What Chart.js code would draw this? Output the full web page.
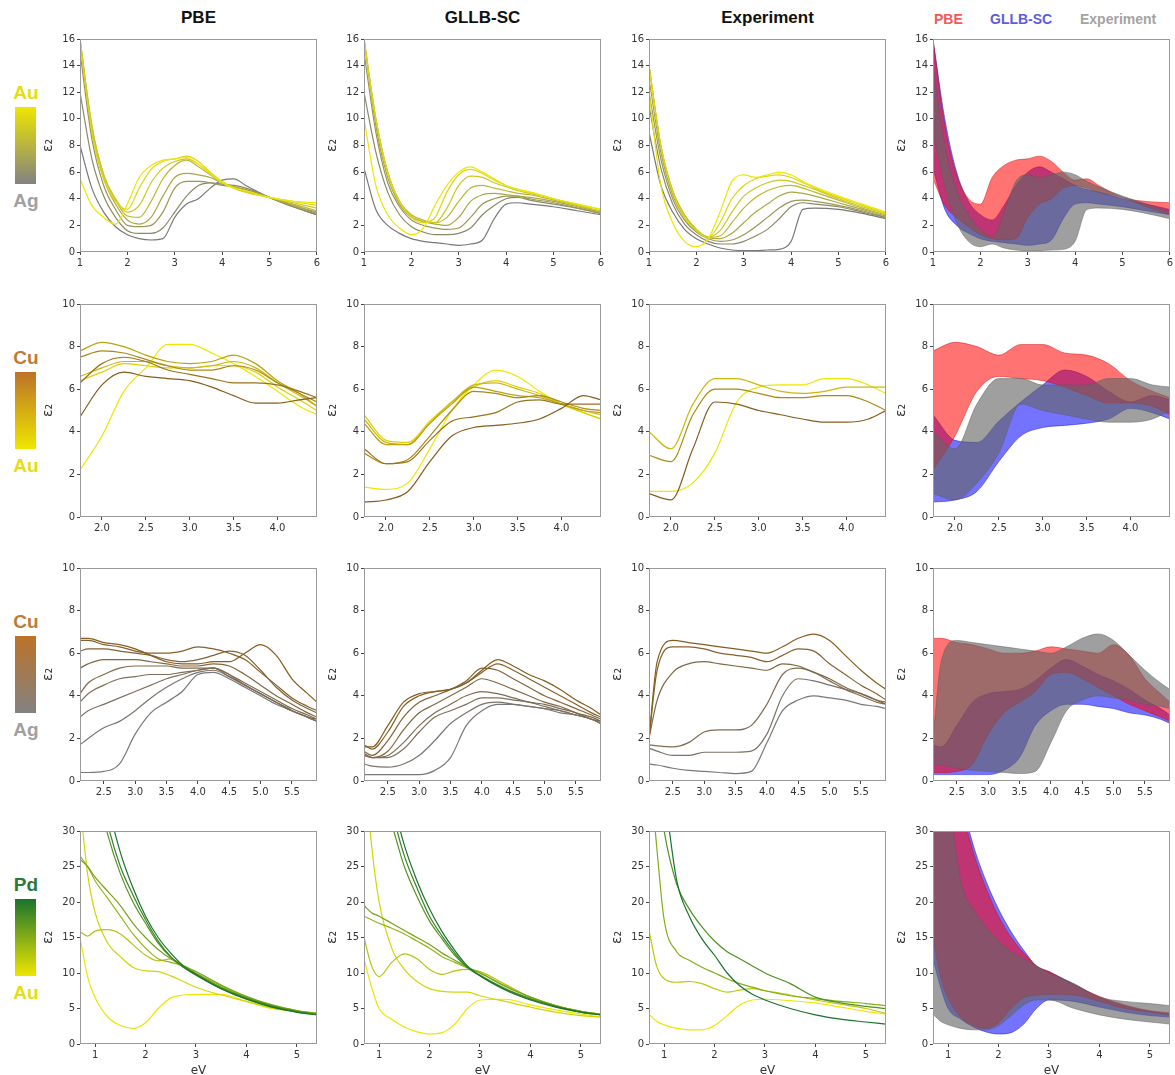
<!DOCTYPE html>
<html>
<head>
<meta charset="utf-8">
<script src="https://cdn.jsdelivr.net/npm/chart.js@4.4.1/dist/chart.umd.min.js"></script>
<style>
  body { margin: 0; background: #fff; font-family: "Liberation Sans", Arial, sans-serif; }
  #wrap { position: relative; width: 1175px; height: 1075px; overflow: hidden; }
  #wrap canvas { position: absolute; }
  .head { position: absolute; top: 8px; width: 237px; text-align: center; font-weight: bold; font-size: 17px; color: #111; }
  .lg { position: absolute; top: 11px; font-weight: bold; font-size: 14px; }
  .cb-lab { position: absolute; left: 6px; width: 40px; text-align: center; font-weight: bold; font-size: 19px; line-height: 20px; }
  .cb-bar { position: absolute; left: 15px; width: 21px; height: 77px; }
</style>
</head>
<body>
<div id="wrap">
  <div class="head" style="left:80px">PBE</div>
  <div class="head" style="left:364px">GLLB-SC</div>
  <div class="head" style="left:649px">Experiment</div>
  <div class="lg" style="left:934px;color:#f05a5a">PBE</div>
  <div class="lg" style="left:990px;color:#5c5ce0">GLLB-SC</div>
  <div class="lg" style="left:1080px;color:#a3a3a3">Experiment</div>
</div>
<script>
// ---- Au-Ag (row 1) ----
const xRow1 = [1.0, 1.25, 1.5, 1.75, 2.0, 2.25, 2.5, 2.75, 3.0, 3.25, 3.5, 3.75, 4.0, 4.25, 4.5, 5.0, 5.5, 6.0];
const pbeAuAg = [
  [5.5, 3.5, 2.6, 2.1, 3.6, 5.6, 6.5, 6.9, 7.0, 7.1, 6.6, 5.9, 5.2, 4.8, 4.6, 4.1, 3.8, 3.7],
  [16, 9.0, 5.5, 3.8, 3.2, 4.8, 6.2, 6.8, 7.0, 7.2, 6.8, 6.0, 5.3, 4.8, 4.5, 4.1, 3.8, 3.5],
  [16, 9.5, 5.8, 4.0, 3.0, 3.5, 5.2, 6.3, 6.8, 7.0, 6.6, 5.9, 5.2, 4.8, 4.5, 4.1, 3.7, 3.3],
  [16, 9.5, 5.8, 3.9, 2.7, 2.6, 3.8, 5.5, 6.5, 6.9, 6.4, 5.8, 5.2, 4.9, 4.6, 4.1, 3.6, 3.1],
  [16, 9.0, 5.5, 3.6, 2.4, 2.1, 2.6, 4.2, 5.6, 5.9, 5.8, 5.6, 5.2, 4.9, 4.6, 4.1, 3.5, 3.0],
  [15, 8.5, 5.0, 3.2, 2.0, 1.9, 2.0, 3.0, 4.8, 5.3, 5.3, 5.2, 5.0, 4.9, 4.7, 4.1, 3.5, 2.9],
  [12, 7.0, 4.2, 2.6, 1.6, 1.4, 1.4, 1.8, 3.0, 4.2, 5.0, 5.2, 5.1, 5.0, 4.8, 4.1, 3.4, 2.8],
  [8, 4.8, 3.0, 1.9, 1.3, 1.0, 0.9, 1.0, 2.6, 3.6, 4.0, 4.8, 5.4, 5.5, 5.0, 4.1, 3.4, 2.8]
];
const gllbAuAg = [
  [10, 5.0, 2.8, 1.8, 1.3, 1.8, 3.5, 5.0, 6.0, 6.4, 6.0, 5.5, 5.0, 4.7, 4.5, 4.0, 3.6, 3.2],
  [16, 10, 6.0, 3.8, 2.6, 2.2, 2.6, 4.5, 5.8, 6.2, 5.9, 5.4, 5.0, 4.7, 4.5, 4.0, 3.6, 3.2],
  [16, 10, 6.0, 3.8, 2.7, 2.3, 2.2, 3.3, 5.0, 5.7, 5.6, 5.2, 4.9, 4.6, 4.4, 4.0, 3.5, 3.1],
  [16, 10, 6.0, 3.8, 2.8, 2.4, 2.2, 2.6, 3.8, 4.8, 5.0, 4.8, 4.6, 4.4, 4.3, 3.9, 3.5, 3.0],
  [16, 9.5, 5.6, 3.6, 2.6, 2.3, 2.1, 2.0, 2.6, 3.8, 4.3, 4.4, 4.3, 4.2, 4.1, 3.8, 3.4, 3.0],
  [15, 9.0, 5.2, 3.4, 2.4, 2.0, 1.8, 1.7, 1.8, 2.6, 3.6, 4.0, 4.2, 4.2, 4.0, 3.7, 3.3, 2.9],
  [12, 7.5, 4.5, 2.8, 1.9, 1.5, 1.3, 1.3, 1.4, 1.8, 2.8, 3.5, 4.0, 4.1, 3.9, 3.6, 3.3, 2.9],
  [6.3, 3.2, 2.0, 1.4, 1.0, 0.8, 0.7, 0.6, 0.5, 0.6, 0.9, 2.5, 3.6, 3.7, 3.6, 3.4, 3.1, 2.8]
];
const expAuAg = [
  [12, 5.0, 2.2, 0.8, 0.4, 1.0, 3.0, 5.3, 5.8, 5.6, 5.8, 6.0, 5.8, 5.3, 4.9, 4.2, 3.6, 3.0],
  [14, 8.0, 4.5, 2.6, 1.6, 1.1, 2.2, 4.0, 5.0, 5.5, 5.7, 5.8, 5.6, 5.2, 4.8, 4.1, 3.5, 2.9],
  [14, 8.0, 4.6, 2.8, 1.7, 1.1, 1.6, 3.0, 4.2, 4.8, 5.2, 5.4, 5.3, 5.0, 4.7, 4.0, 3.4, 2.9],
  [14, 8.0, 4.6, 2.8, 1.7, 1.1, 1.2, 2.2, 3.3, 4.1, 4.6, 4.9, 5.0, 4.8, 4.5, 3.9, 3.3, 2.8],
  [13, 7.5, 4.3, 2.6, 1.6, 1.1, 1.0, 1.4, 2.2, 3.0, 3.6, 4.2, 4.5, 4.4, 4.2, 3.7, 3.2, 2.7],
  [12, 7.0, 4.0, 2.4, 1.5, 1.0, 0.8, 0.9, 1.3, 1.9, 2.6, 3.3, 3.8, 3.9, 3.8, 3.5, 3.1, 2.6],
  [11, 6.3, 3.6, 2.1, 1.3, 0.8, 0.6, 0.6, 0.8, 1.2, 1.7, 2.5, 3.4, 3.7, 3.6, 3.4, 3.0, 2.6],
  [9, 5.0, 3.0, 1.7, 1.0, 0.6, 0.3, 0.15, 0.1, 0.1, 0.15, 0.2, 0.8, 3.2, 3.3, 3.2, 2.9, 2.5]
];

// ---- Cu-Au (row 2) ----
const xRow2 = [1.75, 2.0, 2.25, 2.5, 2.75, 3.0, 3.25, 3.5, 3.75, 4.0, 4.25, 4.45];
const pbeCuAu = [
  [4.7, 6.2, 6.8, 6.6, 6.5, 6.4, 6.1, 5.7, 5.35, 5.35, 5.5, 5.6],
  [6.3, 7.2, 7.5, 7.3, 6.9, 6.7, 6.5, 6.3, 6.3, 6.2, 5.9, 5.6],
  [7.5, 7.8, 7.7, 7.4, 7.1, 6.9, 6.9, 7.1, 6.9, 6.3, 5.8, 5.4],
  [7.8, 8.2, 8.0, 7.6, 7.3, 7.2, 7.3, 7.6, 7.2, 6.4, 5.8, 5.2],
  [6.6, 7.0, 7.3, 7.3, 7.1, 7.0, 7.1, 7.3, 7.0, 6.3, 5.7, 5.2],
  [6.4, 6.8, 7.2, 7.1, 7.0, 7.0, 7.1, 7.1, 6.8, 6.1, 5.5, 5.0],
  [2.2, 3.8, 5.9, 7.0, 8.1, 8.1, 7.7, 7.2, 6.6, 5.9, 5.2, 4.8]
];
const gllbCuAu = [
  [0.7, 0.8, 1.2, 2.6, 3.8, 4.2, 4.3, 4.4, 4.6, 5.1, 5.7, 5.5],
  [3.2, 2.5, 2.6, 3.6, 4.5, 4.7, 4.9, 5.4, 5.5, 5.3, 5.3, 5.3],
  [3.0, 2.5, 2.7, 3.8, 5.0, 5.9, 5.8, 5.6, 5.7, 5.4, 5.1, 5.0],
  [4.4, 3.4, 3.4, 4.4, 5.3, 6.1, 5.9, 5.7, 5.6, 5.3, 5.0, 4.9],
  [4.6, 3.5, 3.4, 4.4, 5.4, 6.2, 6.3, 6.0, 5.7, 5.3, 5.0, 4.8],
  [4.8, 3.6, 3.5, 4.5, 5.4, 6.1, 6.4, 6.1, 5.8, 5.3, 4.9, 4.6],
  [1.4, 1.3, 1.6, 3.2, 5.0, 6.2, 6.9, 6.6, 5.9, 5.3, 4.9, 4.6]
];
const expCuAu = [
  [1.1, 0.8, 3.2, 5.4, 5.3, 5.0, 4.8, 4.6, 4.45, 4.45, 4.6, 5.0],
  [2.9, 2.6, 4.8, 6.0, 6.0, 5.8, 5.6, 5.6, 5.7, 5.7, 5.4, 5.0],
  [4.0, 3.2, 5.3, 6.5, 6.5, 6.2, 5.9, 5.8, 5.9, 6.1, 6.1, 6.1],
  [1.2, 1.2, 1.6, 3.0, 5.4, 6.1, 6.2, 6.2, 6.5, 6.5, 6.2, 5.8]
];

// ---- Cu-Ag (row 3) ----
const xRow3 = [2.12, 2.25, 2.5, 2.75, 3.0, 3.25, 3.5, 3.75, 4.0, 4.25, 4.5, 4.75, 5.0, 5.25, 5.5, 5.75, 5.9];
const pbeCuAg = [
  [6.7, 6.7, 6.5, 6.4, 6.2, 5.9, 5.6, 5.5, 5.5, 5.6, 5.6, 6.0, 6.4, 5.9, 4.8, 4.1, 3.7],
  [6.6, 6.6, 6.4, 6.3, 6.1, 6.0, 6.0, 6.1, 6.3, 6.2, 6.0, 5.7, 5.1, 4.5, 3.9, 3.5, 3.3],
  [6.1, 6.2, 6.2, 6.1, 6.0, 5.9, 5.7, 5.6, 5.7, 5.9, 6.1, 5.9, 5.2, 4.4, 3.8, 3.4, 3.2],
  [5.3, 5.5, 5.7, 5.7, 5.7, 5.6, 5.5, 5.4, 5.4, 5.5, 5.4, 5.0, 4.5, 4.0, 3.6, 3.2, 3.0],
  [4.1, 4.6, 5.0, 5.3, 5.4, 5.4, 5.4, 5.3, 5.3, 5.3, 5.0, 4.6, 4.2, 3.8, 3.4, 3.1, 2.9],
  [3.7, 4.1, 4.5, 4.8, 4.9, 5.0, 5.0, 5.1, 5.2, 5.3, 4.9, 4.5, 4.1, 3.7, 3.3, 3.0, 2.9],
  [3.0, 3.3, 3.6, 3.9, 4.2, 4.5, 4.8, 5.0, 5.2, 5.3, 5.0, 4.5, 4.1, 3.7, 3.3, 3.0, 2.8],
  [1.7, 2.0, 2.5, 2.8, 3.3, 3.9, 4.4, 4.8, 5.1, 5.2, 4.9, 4.5, 4.1, 3.7, 3.3, 3.0, 2.8],
  [0.4, 0.4, 0.45, 0.8, 2.2, 3.2, 3.7, 4.2, 5.0, 5.1, 4.8, 4.4, 4.0, 3.6, 3.3, 3.0, 2.8]
];
const gllbCuAg = [
  [1.6, 1.6, 2.6, 3.7, 4.1, 4.2, 4.3, 4.6, 5.2, 5.7, 5.4, 5.0, 4.7, 4.3, 3.8, 3.4, 3.1],
  [1.7, 1.5, 2.3, 3.5, 4.0, 4.2, 4.3, 4.6, 5.1, 5.5, 5.2, 4.8, 4.4, 4.0, 3.6, 3.2, 3.0],
  [1.4, 1.2, 1.9, 3.0, 3.7, 4.0, 4.3, 4.7, 5.3, 5.2, 4.8, 4.4, 4.0, 3.7, 3.4, 3.1, 2.9],
  [1.3, 1.1, 1.4, 2.4, 3.2, 3.6, 4.0, 4.4, 4.8, 4.6, 4.3, 4.0, 3.7, 3.5, 3.2, 3.0, 2.8],
  [1.2, 1.1, 1.2, 1.8, 2.6, 3.2, 3.6, 4.0, 4.2, 4.1, 3.9, 3.7, 3.6, 3.4, 3.2, 2.9, 2.8],
  [1.2, 1.1, 1.1, 1.5, 2.3, 3.0, 3.3, 3.6, 3.9, 3.9, 3.8, 3.7, 3.5, 3.3, 3.1, 2.9, 2.7],
  [0.8, 0.7, 0.65, 0.8, 1.2, 1.9, 2.7, 3.2, 3.6, 3.7, 3.6, 3.5, 3.4, 3.3, 3.1, 2.9, 2.7],
  [0.3, 0.3, 0.3, 0.3, 0.3, 0.5, 1.1, 2.6, 3.3, 3.6, 3.6, 3.5, 3.4, 3.2, 3.1, 2.9, 2.7]
];
const expCuAg = [
  [2.0, 5.6, 6.6, 6.5, 6.4, 6.3, 6.2, 6.1, 6.0, 6.3, 6.7, 6.9, 6.6, 5.9, 5.2, 4.6, 4.3],
  [2.0, 5.2, 6.3, 6.3, 6.2, 6.0, 5.9, 5.8, 5.6, 5.9, 6.2, 6.1, 5.5, 5.0, 4.5, 4.1, 3.8],
  [2.0, 3.8, 5.1, 5.5, 5.6, 5.5, 5.4, 5.3, 5.2, 5.5, 5.4, 5.1, 4.8, 4.4, 4.1, 3.8, 3.7],
  [1.7, 1.65, 1.6, 1.8, 2.3, 2.4, 2.4, 2.6, 3.6, 5.0, 5.3, 5.1, 4.7, 4.3, 4.0, 3.7, 3.6],
  [1.55, 1.4, 1.2, 1.2, 1.35, 1.35, 1.35, 1.4, 2.2, 4.0, 4.8, 4.7, 4.5, 4.3, 4.1, 3.8, 3.6],
  [0.8, 0.75, 0.6, 0.5, 0.45, 0.4, 0.35, 0.45, 1.8, 3.3, 3.8, 4.0, 3.9, 3.8, 3.6, 3.5, 3.4]
];

// ---- Pd-Au (row 4) ----
const xRow4 = [0.7, 0.85, 1.0, 1.25, 1.5, 1.75, 2.0, 2.25, 2.5, 2.75, 3.0, 3.5, 4.0, 4.5, 5.0, 5.4];
const pbePdAu = [
  [60, 50, 44, 34, 27, 22, 18, 15, 12.8, 11, 9.8, 7.8, 6.3, 5.2, 4.5, 4.1],
  [55, 45, 40, 31, 25, 21, 17.5, 14.5, 12.3, 10.8, 9.7, 7.8, 6.4, 5.3, 4.5, 4.1],
  [50, 42, 37, 29.5, 24, 20, 17, 14.2, 12.2, 10.8, 9.9, 8.0, 6.5, 5.4, 4.6, 4.2],
  [26, 25, 23.5, 21.5, 19.5, 17, 15, 13.3, 12, 11, 10.2, 8.3, 6.7, 5.5, 4.7, 4.3],
  [26.5, 25, 23, 20.5, 18, 15.5, 13.5, 12.0, 11.5, 11, 10, 8.2, 6.6, 5.5, 4.7, 4.3],
  [15.8, 15.2, 15.9, 16.1, 15.5, 14, 12.5, 11.7, 12, 11, 9.8, 8.0, 6.5, 5.3, 4.6, 4.3],
  [34, 24, 18.5, 14.2, 12.3, 10.8, 10.3, 10.2, 9.6, 8.8, 8.0, 6.9, 6.0, 5.1, 4.6, 4.3],
  [15, 9.5, 6.5, 3.8, 2.6, 2.2, 3.0, 5.0, 6.5, 6.9, 7.0, 7.0, 6.0, 5.0, 4.6, 4.4]
];
const gllbPdAu = [
  [60, 50, 44, 35, 28, 23, 19, 15.8, 13.2, 11.0, 9.6, 7.6, 6.2, 5.2, 4.5, 4.1],
  [55, 46, 41, 33, 26.5, 22, 18, 15.2, 12.8, 10.8, 9.6, 7.7, 6.3, 5.3, 4.5, 4.1],
  [50, 42, 37, 31, 25, 20.8, 17.3, 14.8, 12.5, 10.8, 9.7, 7.8, 6.4, 5.3, 4.5, 4.1],
  [19.5, 18.5, 18.0, 17.0, 16.0, 15.0, 14.0, 12.8, 11.8, 10.8, 10.0, 8.1, 6.6, 5.4, 4.6, 4.2],
  [18, 17.5, 17, 16.3, 15.5, 14.5, 13.5, 12.3, 11.5, 10.7, 10.0, 8.2, 6.6, 5.4, 4.6, 4.2],
  [15, 11, 9.5, 11.5, 12.7, 12, 10.5, 9.8, 10.3, 10.5, 10.2, 8.4, 6.6, 5.4, 4.6, 4.2],
  [40, 28, 20, 13.5, 10.5, 8.8, 7.8, 7.4, 7.3, 7.3, 6.8, 6.0, 5.2, 4.5, 4.0, 3.8],
  [12, 8, 5, 3.5, 2.4, 1.7, 1.4, 1.6, 2.8, 5.0, 6.2, 6.3, 5.5, 4.8, 4.2, 3.8]
];
const expPdAu = [
  [60, 45, 36, 23, 18, 14.8, 12.5, 10.0, 8.2, 7.0, 6.2, 5.0, 4.1, 3.5, 3.1, 2.8],
  [50, 38, 30, 22.5, 19, 16.5, 14.5, 13.0, 12.0, 11.0, 10.0, 8.5, 6.6, 5.8, 5.3, 5.0],
  [40, 28, 17.5, 13.0, 11.8, 10.8, 10.0, 9.2, 8.5, 8.0, 7.5, 6.8, 6.4, 6.0, 5.7, 5.4],
  [16, 11, 9.2, 8.7, 8.8, 8.5, 7.8, 7.3, 7.6, 7.8, 7.5, 6.9, 6.2, 5.6, 5.0, 4.3],
  [4.2, 3.2, 2.7, 2.2, 2.0, 2.0, 2.6, 4.0, 5.5, 6.2, 6.3, 6.1, 5.8, 5.2, 4.6, 4.2]
];

// warna logam: colorbar dan garis (Cu garis lebih gelap)
const AU = [238, 230, 0], AG = [130, 130, 130], CU = [188, 114, 40], PD = [25, 115, 45];
const CU_LINE = [135, 92, 30], AG_LINE = [120, 120, 120];

const colLeft = [80, 364, 649, 933];
const PW = 237, PH = 213, YW = 42;

const rows = [
  { top: 39, xs: xRow1, xMin: 1, xMax: 6, xStep: 1, yMax: 16, yStep: 2, dec: 0, a: AU, b: AG, la0: AU, lb0: AG_LINE, la: 'Au', lb: 'Ag', ca: '#e6dc12', cb: '#a0a0a0', sets: [pbeAuAg, gllbAuAg, expAuAg] },
  { top: 304, xs: xRow2, xMin: 1.75, xMax: 4.45, xStep: 0.5, yMax: 10, yStep: 2, dec: 1, a: CU, b: AU, la0: CU_LINE, lb0: AU, la: 'Cu', lb: 'Au', ca: '#c07a38', cb: '#e6dc12', sets: [pbeCuAu, gllbCuAu, expCuAu] },
  { top: 568, xs: xRow3, xMin: 2.12, xMax: 5.9, xStep: 0.5, yMax: 10, yStep: 2, dec: 1, a: CU, b: AG, la0: CU_LINE, lb0: AG_LINE, la: 'Cu', lb: 'Ag', ca: '#c07a38', cb: '#a0a0a0', sets: [pbeCuAg, gllbCuAg, expCuAg] },
  { top: 831, xs: xRow4, xMin: 0.7, xMax: 5.4, xStep: 1, yMax: 30, yStep: 5, dec: 0, a: PD, b: AU, la0: PD, lb0: AU, la: 'Pd', lb: 'Au', ca: '#2a7a3a', cb: '#e6dc12', sets: [pbePdAu, gllbPdAu, expPdAu] }
];

const wrap = document.getElementById('wrap');

const mix = (a, b, t) => 'rgb(' + a.map((v, i) => Math.round(v + (b[i] - v) * t)).join(',') + ')';
const pts = (xs, ys) => xs.map((x, i) => ({ x: x, y: ys[i] }));
const envelope = (curves, fn) => curves[0].map((_, i) => fn(...curves.map(c => c[i])));

// bingkai kotak di sekeliling area plot
const frame = {
  id: 'frame',
  afterDatasetsDraw(chart) {
    const { ctx, chartArea: a } = chart;
    ctx.save();
    ctx.strokeStyle = '#9a9a9a';
    ctx.lineWidth = 1;
    ctx.strokeRect(Math.round(a.left) + 0.5, Math.round(a.top) + 0.5, Math.round(a.right - a.left) - 1, Math.round(a.bottom - a.top) - 1);
    ctx.restore();
  }
};

function addDiv(cls, style, text) {
  const d = document.createElement('div');
  d.className = cls;
  d.setAttribute('style', style);
  if (text) d.textContent = text;
  wrap.appendChild(d);
}

function makePanel(row, col, datasets, last) {
  const xh = last ? 34 : 20;
  const c = document.createElement('canvas');
  c.width = YW + PW + 5;
  c.height = 8 + PH + xh;
  c.style.left = (colLeft[col] - YW) + 'px';
  c.style.top = (row.top - 8) + 'px';
  wrap.appendChild(c);

  const tickFont = { family: 'DejaVu Sans', size: 10 };
  new Chart(c, {
    type: 'line',
    data: { datasets: datasets },
    options: {
      responsive: false,
      animation: false,
      events: [],
      layout: { padding: { top: 8, right: 5, left: 0, bottom: 0 } },
      plugins: { legend: { display: false }, tooltip: { enabled: false } },
      elements: { point: { radius: 0 }, line: { cubicInterpolationMode: 'monotone' } },
      scales: {
        x: {
          type: 'linear', min: row.xMin, max: row.xMax,
          afterFit: s => { s.height = xh; },
          border: { display: false },
          grid: { drawOnChartArea: false, tickLength: 3, color: '#444' },
          ticks: { stepSize: row.xStep, includeBounds: false, maxRotation: 0, padding: 2, color: '#333', font: tickFont,
                   callback: v => v.toFixed(row.dec) },
          title: { display: last, text: 'eV', color: '#333', font: { family: 'DejaVu Sans', size: 12 }, padding: { top: 0, bottom: 0 } }
        },
        y: {
          min: 0, max: row.yMax,
          afterFit: s => { s.width = YW; },
          border: { display: false },
          grid: { drawOnChartArea: false, tickLength: 3, color: '#444' },
          ticks: { stepSize: row.yStep, padding: 2, color: '#333', font: tickFont },
          title: { display: true, text: 'ε₂', color: '#333', font: { family: 'DejaVu Sans', size: 14 }, padding: { top: 2, bottom: 0 } }
        }
      }
    },
    plugins: [frame]
  });
}

rows.forEach((row, r) => {
  const last = r === rows.length - 1;

  // colorbar di kiri
  addDiv('cb-lab', `top:${row.top + 44}px;color:${row.ca}`, row.la);
  addDiv('cb-bar', `top:${row.top + 68}px;background:linear-gradient(${mix(row.a, row.a, 0)}, ${mix(row.a, row.b, 0.5)}, ${mix(row.b, row.b, 0)})`);
  addDiv('cb-lab', `top:${row.top + 152}px;color:${row.cb}`, row.lb);

  // tiga panel kurva
  row.sets.forEach((curves, col) => {
    const n = curves.length;
    const ds = curves.map((ys, i) => ({
      data: pts(row.xs, ys),
      borderColor: mix(row.la0, row.lb0, i / (n - 1)),
      borderWidth: 1.2,
      fill: false
    }));
    makePanel(row, col, ds, last);
  });

  // panel pita: Experiment (atas), PBE, GLLB-SC (bawah)
  const [pbe, gllb, exp] = row.sets;
  const bands = [
    [exp, 'rgba(100,100,100,0.62)', 'rgba(90,90,90,0.6)'],
    [pbe, 'rgba(255,0,0,0.55)', 'rgba(200,0,0,0.55)'],
    [gllb, 'rgba(0,0,255,0.55)', 'rgba(0,0,170,0.55)']
  ];
  const bandDs = [];
  bands.forEach(([set, fillCol, edge]) => {
    bandDs.push({ data: pts(row.xs, envelope(set, Math.max)), fill: '+1', backgroundColor: fillCol, borderColor: edge, borderWidth: 0.8 });
    bandDs.push({ data: pts(row.xs, envelope(set, Math.min)), fill: false, borderColor: edge, borderWidth: 0.8 });
  });
  makePanel(row, 3, bandDs, last);
});
</script>
</body>
</html>
